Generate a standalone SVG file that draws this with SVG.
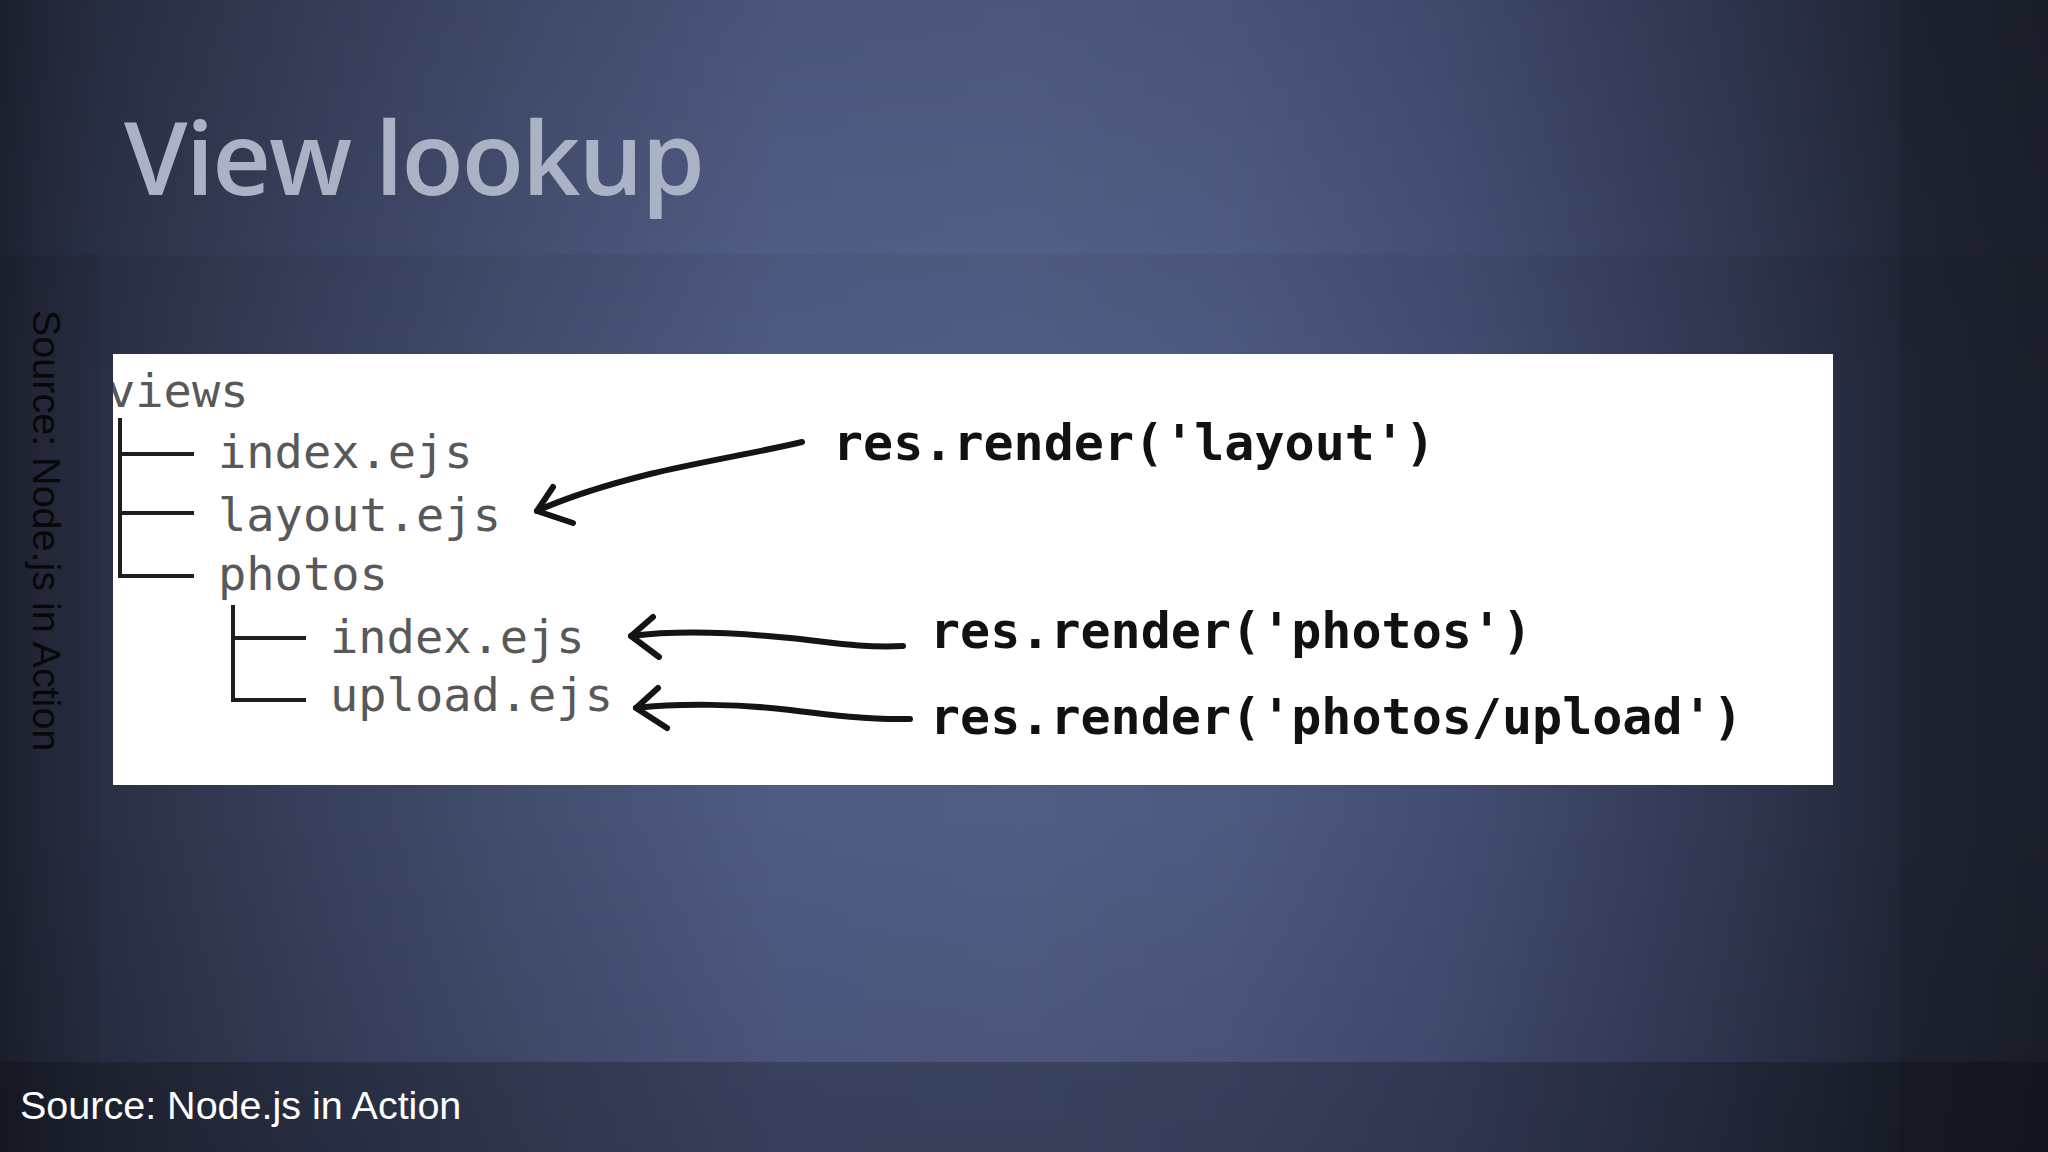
<svg xmlns="http://www.w3.org/2000/svg" width="2048" height="1152" viewBox="0 0 2048 1152">
  <defs>
    <linearGradient id="bgH" x1="0" y1="0" x2="1" y2="0">
      <stop offset="0" stop-color="#1f2333"/>
      <stop offset="0.02" stop-color="#252a3d"/>
      <stop offset="0.05" stop-color="#2b3349"/>
      <stop offset="0.075" stop-color="#30374e"/>
      <stop offset="0.15" stop-color="#3a4360"/>
      <stop offset="0.25" stop-color="#465173"/>
      <stop offset="0.38" stop-color="#54608a"/>
      <stop offset="0.5" stop-color="#56628b"/>
      <stop offset="0.6" stop-color="#525e86"/>
      <stop offset="0.7" stop-color="#48537a"/>
      <stop offset="0.8" stop-color="#3a4261"/>
      <stop offset="0.88" stop-color="#2d344b"/>
      <stop offset="0.93" stop-color="#23293a"/>
      <stop offset="1" stop-color="#1f2331"/>
    </linearGradient>
    <linearGradient id="bgV" x1="0" y1="0" x2="0" y2="1">
      <stop offset="0" stop-color="#000" stop-opacity="0.12"/>
      <stop offset="0.35" stop-color="#000" stop-opacity="0"/>
      <stop offset="0.7" stop-color="#000" stop-opacity="0"/>
      <stop offset="1" stop-color="#000" stop-opacity="0.1"/>
    </linearGradient>
    <clipPath id="panelClip">
      <rect x="113" y="354" width="1720" height="431"/>
    </clipPath>
    <style>
      .title { font-family: "Open Sans", "Liberation Sans", sans-serif; font-weight: 600; font-size: 102px; fill: #aab3c6; }
      .src { font-family: "Liberation Sans", Arial, sans-serif; font-size: 39.5px; }
      .tree { font-family: "DejaVu Sans Mono", "Liberation Mono", monospace; font-size: 47px; fill: #585858; }
      .code { font-family: "DejaVu Sans Mono", "Liberation Mono", monospace; font-weight: bold; font-size: 50px; fill: #111111; }
      .branch { fill: none; stroke: #1e1e1e; stroke-width: 4; stroke-linecap: square; }
      .arrow { fill: none; stroke: #141414; stroke-width: 6; stroke-linecap: round; stroke-linejoin: round; }
    </style>
  </defs>

  <g id="background">
    <rect x="0" y="0" width="2048" height="1152" fill="url(#bgH)"/>
    <rect x="0" y="0" width="2048" height="1152" fill="url(#bgV)"/>
    <rect x="0" y="255" width="2048" height="807" fill="#000" fill-opacity="0.05"/>
    <rect x="0" y="255" width="100" height="807" fill="#000" fill-opacity="0.025"/>
    <rect x="1900" y="0" width="148" height="1152" fill="#000" fill-opacity="0.06"/>
    <rect x="0" y="1062" width="2048" height="90" fill="#000" fill-opacity="0.27"/>
  </g>

  <g id="title">
    <text class="title" x="124" y="195" textLength="581">View lookup</text>
  </g>

  <g id="source-side">
    <text class="src" fill="#080808" transform="translate(33,310) rotate(90)">Source: Node.js in Action</text>
  </g>

  <g id="source-footer">
    <text class="src" fill="#ffffff" x="20" y="1119">Source: Node.js in Action</text>
  </g>

  <g id="panel">
    <rect x="113" y="354" width="1720" height="431" fill="#ffffff"/>
  </g>

  <g id="connectors">
    <g id="tree-lines">
      <path class="branch" d="M120 420 V576 M120 454 H192 M120 513 H192 M120 576 H192"/>
      <path class="branch" d="M233 607 V700 M233 638 H304 M233 700 H304"/>
    </g>
    <g id="arrow-layout">
      <path class="arrow" d="M802 442 C760 452 700 462 650 474 C610 484 570 496 537 511"/>
      <path class="arrow" d="M553 487 L537 511 L573 523"/>
    </g>
    <g id="arrow-photos">
      <path class="arrow" d="M631 636 C680 630 740 633 790 638 C830 642 860 648 903 646"/>
      <path class="arrow" d="M653 617 L631 636 L659 657"/>
    </g>
    <g id="arrow-upload">
      <path class="arrow" d="M636 708 C680 703 740 704 790 710 C830 715 870 720 910 719"/>
      <path class="arrow" d="M658 688 L636 708 L667 728"/>
    </g>
  </g>

  <g id="node-views" clip-path="url(#panelClip)">
    <text class="tree" x="107" y="407">views</text>
  </g>
  <g id="node-index">
    <text class="tree" x="218" y="468">index.ejs</text>
  </g>
  <g id="node-layout">
    <text class="tree" x="218" y="531">layout.ejs</text>
  </g>
  <g id="node-photos">
    <text class="tree" x="218" y="590">photos</text>
  </g>
  <g id="node-photos-index">
    <text class="tree" x="330" y="653">index.ejs</text>
  </g>
  <g id="node-photos-upload">
    <text class="tree" x="330" y="711">upload.ejs</text>
  </g>

  <g id="label-layout">
    <text class="code" x="833" y="460">res.render('layout')</text>
  </g>
  <g id="label-photos">
    <text class="code" x="930" y="648">res.render('photos')</text>
  </g>
  <g id="label-upload">
    <text class="code" x="930" y="734">res.render('photos/upload')</text>
  </g>
</svg>
